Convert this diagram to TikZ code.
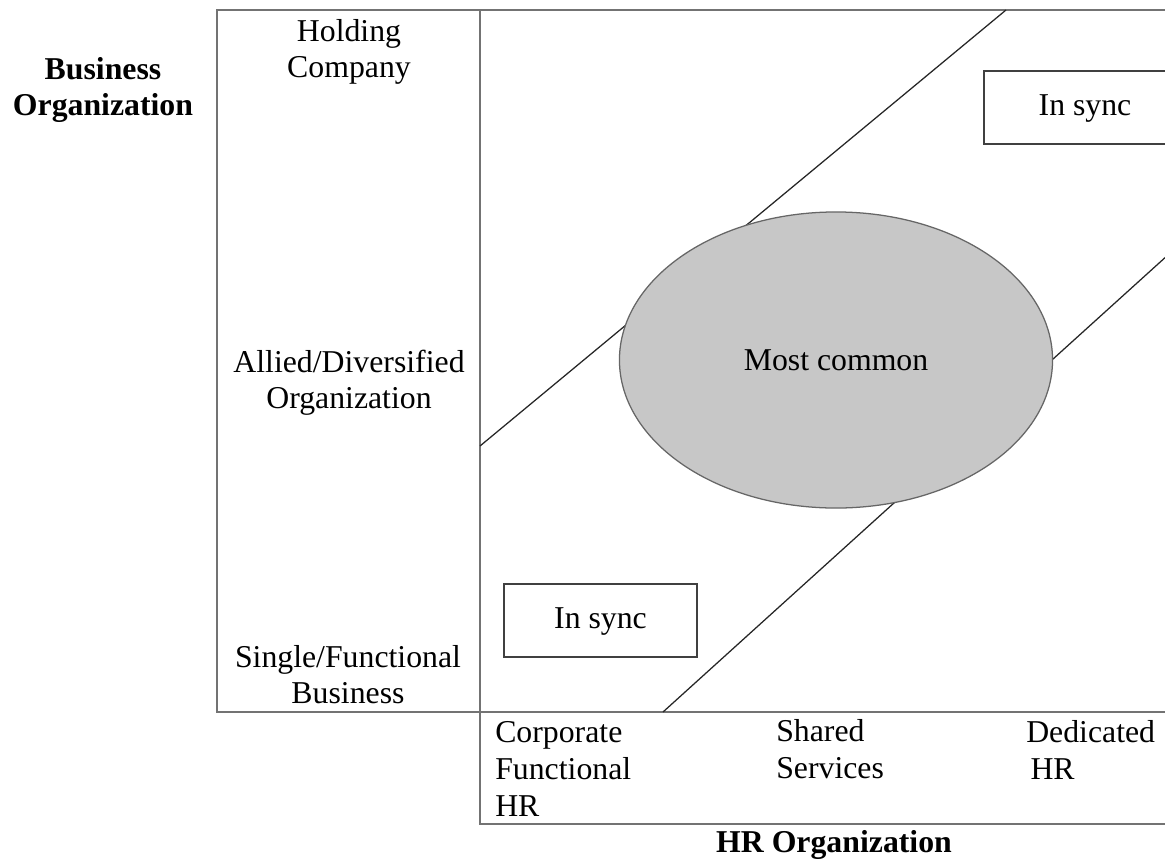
\documentclass[tikz,border=0pt]{standalone}
\usepackage{fontspec}
\setmainfont{Liberation Serif}
\usetikzlibrary{positioning, shapes.geometric}

\begin{document}
\begin{tikzpicture}[x=0.025cm, y=-0.025cm,
    lbl/.style={font=\fontsize{22.6}{25.4}\selectfont, inner sep=0pt, align=center},
    lbll/.style={lbl, font=\fontsize{22.6}{26}\selectfont, align=left, anchor=base west},
    axislbl/.style={lbl, font=\fontsize{22.6}{25.4}\selectfont\bfseries},
    gridline/.style={draw=black!55, line width=0.8pt},
    diag/.style={draw=black!85, line width=0.9pt},
    syncbox/.style={draw=black!75, line width=0.9pt, lbl, minimum height=1.825cm, text depth=0.6ex}]
    \useasboundingbox (0,0) rectangle (1165,861);
    \clip (0,0) rectangle (1165,861);
    % frame of the matrix
    \coordinate (TL) at (217,10);
    \coordinate (TM) at (480,10);
    \coordinate (TR) at (1170,10);
    \coordinate (BL) at (217,712);
    \coordinate (BM) at (480,712);
    \coordinate (BR) at (1170,712);
    \coordinate (FM) at (480,824);
    \coordinate (FR) at (1170,824);
    \draw[gridline] (TR) -- (TL) -- (BL) -- (BR);
    \draw[gridline] (TM) -- (FM) -- (FR);
    % band of fit
    \coordinate (U1) at (480,446);
    \coordinate (U2) at (1006,10);
    \coordinate (L1) at (663,712);
    \coordinate (L2) at (1200,226);
    \draw[diag] (U1) -- (U2);
    \draw[diag] (L1) -- (L2);
    \node[ellipse, draw=black!60, line width=0.9pt, fill=black!22, minimum width=10.825cm,
          minimum height=7.4cm, inner sep=0pt, lbl] (common) at (836,360) {Most common};
    \node[syncbox, minimum width=5.05cm] (synctop) at (1085,107.5) {In sync};
    \node[syncbox, minimum width=4.825cm] (syncbot) at (600.5,620.5) {In sync};
    % axis labels
    \node[axislbl, anchor=base] (bizorg) at (103,115) {Business\\Organization};
    \node[lbl, anchor=base] (holding) at (349,77) {Holding\\Company};
    \node[lbl, anchor=base] (allied) at (349,408) {Allied/Diversified\\Organization};
    \node[lbl, anchor=base] (single) at (348,703) {Single/Functional\\Business};
    \node[lbll] (corp) at (495,816) {Corporate\\Functional\\HR};
    \node[lbll] (shared) at (776,778) {Shared\\Services};
    \node[lbll] (dedicated) at (1026,779) {Dedicated\\\hspace{3pt}HR};
    \node[axislbl, anchor=base] (hrorg) at (834,852) {HR Organization};
\end{tikzpicture}
\end{document}
